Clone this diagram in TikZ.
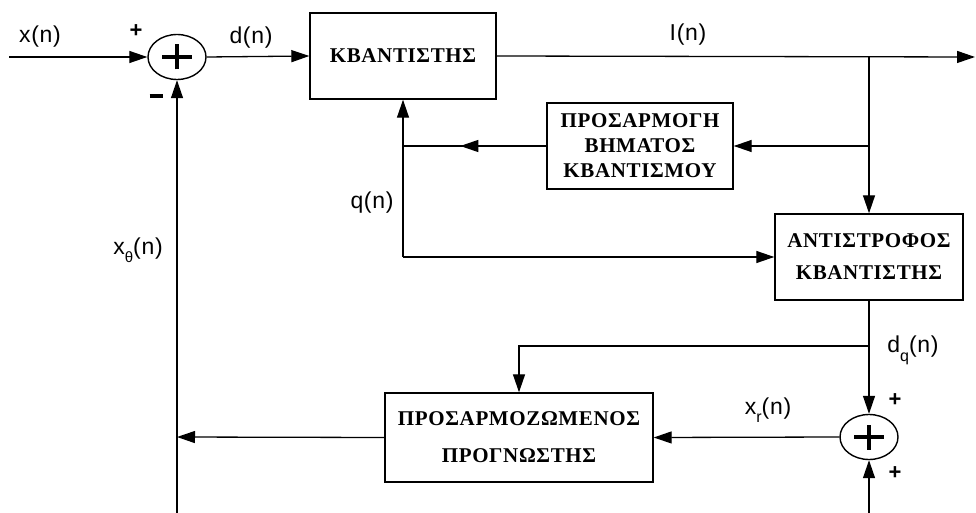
\documentclass[tikz,border=0pt]{standalone}
\usepackage{fontspec}
\setmainfont{Liberation Serif}
\newfontfamily\lblfont[LetterSpace=3]{Liberation Sans}
\newfontfamily\boxfont[LetterSpace=3]{Liberation Serif}
\usetikzlibrary{arrows.meta,shapes.geometric,decorations.markings,calc}
\begin{document}
\begin{tikzpicture}[x=1pt,y=-1pt,
  ln/.style={line width=1.3pt},
  arr/.style={ln,-{Triangle[length=18pt,width=12pt]}},
  midarr/.style={ln,postaction={decorate},decoration={markings,mark=at position 0.6 with {\arrow{Triangle[length=18pt,width=12pt]}}}},
  blk/.style={draw,line width=1.4pt,inner sep=0pt,align=center},
  sumnode/.style={draw,ellipse,line width=1.4pt,minimum width=58pt,minimum height=45pt,inner sep=0pt,
    path picture={\draw[line width=3.6pt] ([xshift=-15pt]path picture bounding box.center) -- ([xshift=15pt]path picture bounding box.center);
                  \draw[line width=3.6pt] ([yshift=-12.5pt]path picture bounding box.center) -- ([yshift=12.5pt]path picture bounding box.center);}},
  lbl/.style={font=\lblfont\fontsize{23}{27}\selectfont,inner sep=0pt},
  sgn/.style={font=\lblfont\bfseries\fontsize{22}{22}\selectfont,inner sep=0pt}]
\useasboundingbox (0,0) rectangle (976,513);

% blocks
\node[sumnode] (s1) at (177,57) {};
\node[blk,minimum width=186pt,minimum height=86pt,font=\boxfont\bfseries\fontsize{21}{25}\selectfont] (quant) at (403,56) {ΚΒΑΝΤΙΣΤΗΣ};
\node[blk,minimum width=186pt,minimum height=86pt,font=\boxfont\bfseries\fontsize{21}{25}\selectfont] (adapt) at (640,146) {ΠΡΟΣΑΡΜΟΓΗ\\ΒΗΜΑΤΟΣ\\ΚΒΑΝΤΙΣΜΟΥ};
\node[blk,minimum width=188pt,minimum height=86pt,font=\boxfont\bfseries\fontsize{21}{32}\selectfont] (invq) at (869,257) {ΑΝΤΙΣΤΡΟΦΟΣ\\ΚΒΑΝΤΙΣΤΗΣ};
\node[blk,minimum width=268pt,minimum height=89pt,font=\boxfont\bfseries\fontsize{21}{37}\selectfont] (pred) at (519,437.5) {ΠΡΟΣΑΡΜΟΖΩΜΕΝΟΣ\\ΠΡΟΓΝΩΣΤΗΣ};
\node[sumnode] (s2) at (869,437) {};

% coordinates
\coordinate (in) at (9,57);
\coordinate (out) at (975,57);
\coordinate (t1) at (869,57);
\coordinate (t2) at (869,146);
\coordinate (t3) at (403,146);
\coordinate (t4) at (403,257);
\coordinate (t5) at (869,346);
\coordinate (t6) at (519,346);
\coordinate (j1) at (177,437);
\coordinate (b1) at (177,513);
\coordinate (b2) at (869,513);

% connectors
\draw[arr] (in) -- (s1.west);
\draw[arr] (s1.east) -- (quant.west);
\draw[arr] (quant.east) -- (out);
\draw[arr] (t1) -- (invq.north);
\draw[arr] (t2) -- (adapt.east);
\draw[midarr] (adapt.west) -- (t3);
\draw[arr] (t4) -- (quant.south);
\draw[arr] (t4) -- (invq.west);
\draw[arr] (invq.south) -- (s2.north);
\draw[arr] (t5) -- (t6) -- (pred.north);
\draw[arr] (s2.west) -- (pred.east);
\draw[arr] (b2) -- (s2.south);
\draw[arr] (pred.west) -- (j1);
\draw[arr] (b1) -- (s1.south);

% labels
\node[lbl] (lx) at (40,37) {x(n)};
\node[sgn] (p1) at (136,31) {+};
\node[inner sep=0pt] (m1) at (156,96) {\rule{13pt}{4.5pt}};
\node[lbl] (ld) at (251,38) {d(n)};
\node[lbl] (li) at (688,35) {I(n)};
\node[lbl] (lq) at (372,203) {q(n)};
\node[lbl] (lxt) at (138,250) {x\raisebox{-8pt}{\fontsize{15}{15}\selectfont θ}(n)};
\node[lbl] (ldq) at (913,350) {d\raisebox{-9pt}{\fontsize{16}{16}\selectfont q}(n)};
\node[lbl] (lxr) at (768,410) {x\raisebox{-8pt}{\fontsize{16}{16}\selectfont r}(n)};
\node[sgn] (p2) at (895,400) {+};
\node[sgn] (p3) at (895,473) {+};
\end{tikzpicture}
\end{document}
